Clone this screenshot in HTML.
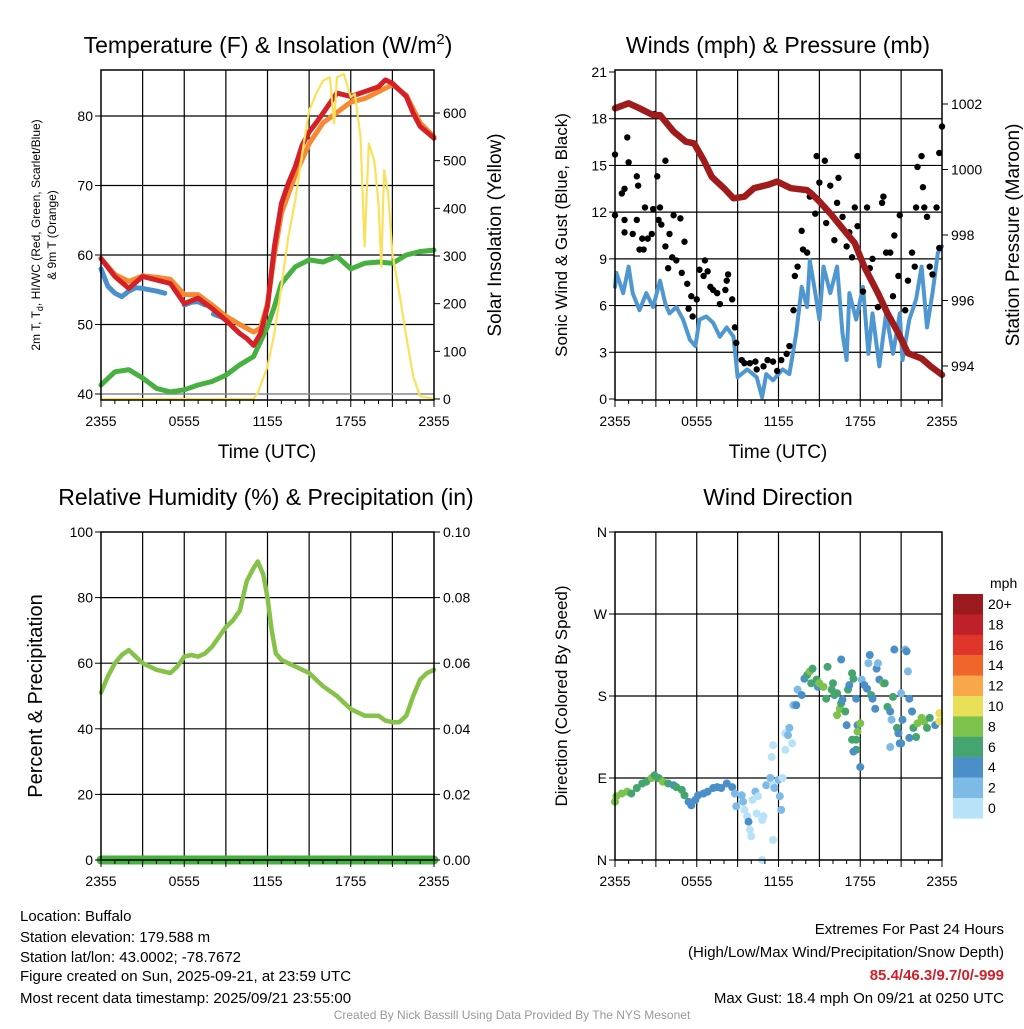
<!DOCTYPE html>
<html><head><meta charset="utf-8">
<style>
html,body{margin:0;padding:0;background:#fff;}
body{width:1024px;height:1024px;overflow:hidden;font-family:"Liberation Sans",Arial,sans-serif;}
svg text{font-family:"Liberation Sans",Arial,sans-serif;fill:#000;}
</style></head>
<body>
<svg id="chart" width="1024" height="1024" viewBox="0 0 1024 1024" xmlns="http://www.w3.org/2000/svg">
  <g id="layer"></g>
  <text x="268" y="53" font-size="23" text-anchor="middle">Temperature (F) &amp; Insolation (W/m<tspan dy="-9" font-size="15">2</tspan><tspan dy="9">)</tspan></text>
  <text x="778" y="53" font-size="23" text-anchor="middle">Winds (mph) &amp; Pressure (mb)</text>
  <text x="266" y="505" font-size="23" text-anchor="middle">Relative Humidity (%) &amp; Precipitation (in)</text>
  <text x="778" y="505" font-size="23" text-anchor="middle">Wind Direction</text>
  <text x="267" y="458" font-size="19" text-anchor="middle">Time (UTC)</text>
  <text x="778" y="458" font-size="19" text-anchor="middle">Time (UTC)</text>
  <text transform="translate(40,235) rotate(-90)" font-size="12" text-anchor="middle">2m T, T<tspan dy="3" font-size="9">d</tspan><tspan dy="-3">, HI/WC (Red, Green, Scarlet/Blue)</tspan></text>
  <text transform="translate(56,235) rotate(-90)" font-size="12" text-anchor="middle">&amp; 9m T (Orange)</text>
  <text transform="translate(501,235) rotate(-90)" font-size="19" text-anchor="middle">Solar Insolation (Yellow)</text>
  <text transform="translate(567,235) rotate(-90)" font-size="17" text-anchor="middle">Sonic Wind &amp; Gust (Blue, Black)</text>
  <text transform="translate(1019,235) rotate(-90)" font-size="19" text-anchor="middle">Station Pressure (Maroon)</text>
  <text transform="translate(42,696) rotate(-90)" font-size="20" text-anchor="middle">Percent &amp; Precipitation</text>
  <text transform="translate(567,696) rotate(-90)" font-size="17" text-anchor="middle">Direction (Colored By Speed)</text>
  <text x="990" y="588" font-size="14">mph</text>
  <g font-size="15">
    <text x="20" y="921">Location: Buffalo</text>
    <text x="20" y="942">Station elevation: 179.588 m</text>
    <text x="20" y="962">Station lat/lon: 43.0002; -78.7672</text>
    <text x="20" y="981">Figure created on Sun, 2025-09-21, at 23:59 UTC</text>
    <text x="20" y="1003">Most recent data timestamp: 2025/09/21 23:55:00</text>
  </g>
  <g font-size="15" text-anchor="end">
    <text x="1004" y="934">Extremes For Past 24 Hours</text>
    <text x="1004" y="957">(High/Low/Max Wind/Precipitation/Snow Depth)</text>
    <text x="1004" y="980" font-weight="bold" style="fill:#d0202a">85.4/46.3/9.7/0/-999</text>
    <text x="1004" y="1003">Max Gust: 18.4 mph On 09/21 at 0250 UTC</text>
  </g>
  <text x="512" y="1019" font-size="12" text-anchor="middle" style="fill:#999">Created By Nick Bassill Using Data Provided By The NYS Mesonet</text>
</svg>
<script>
// ---- Panel 1: temperature (F) by hour since 2355 UTC ----
const tRedHour = [0,1,2,3,4,5,6,7,8,9,10,10.5,11,11.5,12,12.5,13,13.5,14,14.5,15,15.5,16,17,18,19,20,20.5,21,22,22.5,23,24];
const tRed = [59.5,56.9,55.2,56.9,56.4,55.9,53.0,53.8,52.3,50.6,48.7,48,47,48.7,52.6,61.2,67.4,70.3,72.7,75.8,77.7,79,80.4,83.3,82.8,83.5,84.2,85.2,84.7,82.8,80.4,78.5,76.8];
const tOrangeHour = [0,1,2,3,4,5,6,7,8,9,10,11,11.5,12,12.5,13,14,15,16,17,18,19,20,21,22,23,24];
const tOrange = [59.5,57.2,56.2,57,56.8,56.5,54.3,54.3,52.8,51.2,50,48.9,49.5,53,60,66,71.5,76,79,80.5,82,82.5,83.5,84.5,83,79,77];
const tBlueHour1 = [0,0.5,1,1.5,2,2.5,3,3.5,4,4.6];
const tBlue1 = [58,55.5,54.5,54,54.8,55.3,55.2,55,54.8,54.5];
const tBlueHour2 = [6,6.5,7,7.5];
const tBlue2 = [52.8,53.2,53.3,52.8];
const tBlueHour3 = [8.1,8.5,8.9];
const tBlue3 = [51.5,51.2,50.9];
const tdHour = [0,1,2,3,4,5,6,7,8,9,10,11,12,12.5,13,14,15,16,17,18,19,20,21,22,23,24];
const td = [41.3,43.2,43.5,42.3,40.8,40.3,40.6,41.3,41.8,42.7,44.2,45.4,49.7,52.6,55.9,58.3,59.3,59,59.8,58,58.8,59,58.8,60,60.5,60.7];
const solarHour = [0,11,11.3,12,12.5,13,13.5,14,14.5,15,15.5,16,16.5,16.8,17,17.5,18,18.3,18.7,19,19.3,19.7,20,20.2,20.4,20.7,21,21.5,22,22.5,23,24];
const solar = [0,0,13,68,138,236,340,417,515,605,640,668,675,578,675,682,633,640,550,320,536,500,410,278,480,430,305,222,131,47,6,0];
const tempTicks = [40,50,60,70,80];
const solarTicks = [0,100,200,300,400,500,600];
const timeTickHours = [0,6,12,18,24];
const timeTickLabels = ["2355","0555","1155","1755","2355"];

// ---- Panel 2: winds (mph) & pressure (mb) ----
const presHour = [0,1,1.8,2.8,3.3,4.3,5.2,5.8,6.5,7.1,8,8.7,9.5,10.2,11.2,11.9,12.9,14.1,14.4,14.9,15.8,16.8,17.6,18.3,19.3,20,20.8,21.5,22.5,23.2,24];
const pres = [1001.87,1002.02,1001.87,1001.66,1001.66,1001.16,1000.85,1000.8,1000.29,999.78,999.43,999.12,999.17,999.43,999.53,999.63,999.43,999.37,999.27,999.07,998.66,998.15,997.75,997.03,996.22,995.61,995.0,994.39,994.23,993.98,993.73];
const windHour = [0,0.1,0.6,1.0,1.3,1.8,2.3,2.8,3.3,3.7,4.0,4.5,5.0,5.5,5.9,6.2,6.7,7.2,7.7,8.2,8.7,9.0,9.7,10.4,10.8,11.1,11.6,12.3,12.8,13.3,13.7,14.1,14.3,14.7,15.0,15.3,15.8,16.3,16.7,17.0,17.2,17.7,18.2,18.6,18.9,19.4,19.9,20.4,20.9,21.1,21.6,22.1,22.5,22.9,23.3,23.7,24.0];
const wind = [7.2,8.1,6.8,8.5,6.8,5.7,6.8,5.9,7.6,6.1,5.5,5.9,5.1,3.8,3.4,5.1,5.3,4.9,4.0,4.6,4.0,1.4,1.9,1.4,0.1,1.6,1.2,1.9,1.6,4.2,7.2,5.9,8.9,6.8,5.1,8.5,6.8,8.5,4.2,2.5,6.8,5.1,7.2,2.9,5.5,2.1,5.5,2.9,5.5,2.5,5.1,6.4,8.5,4.6,6.8,9.4,9.8];
const gustHour = [0.0,0.0,0.5,0.7,0.9,1.0,0.7,0.7,1.3,1.6,1.7,1.6,2.0,1.8,2.1,2.2,2.4,2.7,2.8,2.9,3.1,3.2,3.3,3.4,3.7,3.7,3.9,4.0,4.2,4.3,4.5,4.8,4.9,5.1,5.3,5.4,5.6,5.7,6.0,6.2,6.5,6.6,6.8,7.0,7.2,7.5,7.7,8.1,8.2,8.3,8.6,8.8,8.9,9.3,9.5,9.9,10.3,10.4,10.9,11.2,11.6,11.9,12.2,12.6,12.8,13.1,13.2,13.4,13.7,13.8,14.1,14.3,14.7,14.8,15.0,15.4,15.5,15.8,16.1,16.3,16.4,16.7,17.0,17.2,17.4,17.6,17.8,17.8,18.2,18.5,18.7,18.9,19.3,19.6,19.7,19.9,20.2,20.4,20.5,20.8,20.9,21.3,21.5,21.8,22.0,22.1,22.2,22.5,22.6,22.7,22.9,23.1,23.3,23.6,23.8,24.0,23.8];
const gust = [15.7,11.8,13.2,13.5,16.8,15.2,11.5,10.7,10.6,14.3,13.7,11.5,10.3,9.6,9.6,12.3,10.3,10.6,12.2,18.3,14.3,11.5,12.3,11.2,15.3,9.8,8.4,10.6,9.1,11.8,8.9,11.6,8.1,10.1,7.4,5.8,6.6,5.3,6.4,8.3,7.9,8.9,8.2,7.2,7.0,6.8,6.1,7.0,7.6,8.0,6.4,4.6,3.6,2.5,2.3,2.3,2.4,1.9,2.1,2.5,2.4,1.8,2.5,2.9,3.4,5.7,7.9,8.5,10.8,9.6,9.4,13.0,11.9,15.6,13.9,15.3,11.3,13.7,10.2,12.6,14.2,11.7,9.8,10.7,9.1,12.3,15.6,11.1,6.9,12.3,8.4,9.0,5.9,12.6,13.0,9.4,9.4,6.6,10.5,7.9,11.8,5.7,7.6,9.4,8.5,12.3,14.9,15.6,13.6,12.3,11.7,8.5,8.0,12.3,15.8,17.5,9.7];
const windTicks = [0,3,6,9,12,15,18,21];
const presTicks = [994,996,998,1000,1002];

// ---- Panel 3: relative humidity (%) & precipitation (in) ----
const rhHour = [0,0.5,1,1.5,2,2.5,3,3.5,4,5,5.5,6,6.5,7,7.5,8,8.5,9,9.5,10,10.5,11,11.3,11.7,12,12.3,12.6,13,14,15,16,17,18,19,20,20.5,21,21.5,22,22.5,23,23.5,24];
const rh = [51,56,60,62.5,64,62,60,59,58,57,59,62,62.5,62,63,65,68,71,73,76,85,89,91,87,80,70,63,61,59,57,53,50,46,44,44,42.5,42,42,44,50,55,57,58];
const precipHour = [0,24];
const precip = [0,0];
const rhTicks = [0,20,40,60,80,100];
const precipTicks = ["0.00","0.02","0.04","0.06","0.08","0.10"];

// ---- Panel 4: wind direction (deg) colored by speed (mph) ----
const dirHour = [0.0,0.1,0.5,0.9,1.2,1.6,2.0,2.3,2.7,2.9,3.2,3.5,3.9,4.3,4.5,4.9,5.1,5.4,5.6,5.9,6.1,6.5,6.8,7.2,7.5,7.8,8.2,8.6,8.8,8.9,9.3,9.4,9.5,9.7,9.8,9.9,10.0,10.1,10.3,10.4,10.5,10.8,10.9,11.1,11.4,11.6,11.7,12.0,12.1,12.2,12.3,11.6,10.8,11.5,11.6,12.5,12.5,12.8,13.0,12.7,13.1,13.3,13.4,13.7,13.9,14.1,14.3,14.5,14.4,14.8,14.9,15.0,15.3,15.5,15.6,15.9,16.0,16.1,16.3,16.5,16.6,16.3,16.7,16.9,17.1,17.2,17.4,17.5,16.6,17.7,17.8,18.0,18.1,18.3,18.5,18.6,18.7,18.8,18.9,19.1,19.2,19.3,19.4,19.7,19.8,20.0,20.2,20.3,20.4,20.5,20.7,20.8,20.9,21.0,21.1,21.3,21.4,21.5,21.6,21.8,21.9,22.1,22.2,22.5,22.7,22.9,23.1,23.5,23.8,23.8,17.7,17.7,17.5,18.0,17.8,17.4,17.0,20.2,21.0,21.6];
const dirDeg = [64,70,73,75,73,79,84,86,90,93,90,86,84,82,80,77,71,64,60,66,71,73,75,79,80,79,84,80,73,59,71,64,55,48,42,33,26,66,75,51,70,44,48,82,90,82,79,88,70,55,90,22,0,113,126,121,139,145,128,137,170,170,187,181,199,203,207,210,194,198,190,194,190,177,212,187,194,181,183,166,172,159,176,163,187,192,205,199,220,177,148,150,198,192,188,216,225,181,177,166,210,216,198,194,194,168,163,154,179,231,145,139,128,183,154,231,229,207,177,163,145,135,150,156,152,145,156,148,161,152,121,132,119,102,141,132,148,124,128,134];
const dirSpeed = [8,8,8,8,6,6,6,6,8,6,6,8,6,4,6,6,6,4,4,4,4,4,4,4,4,4,4,4,2,2,2,2,0,0,4,0,0,0,2,0,0,0,0,2,2,0,2,2,2,2,0,0,0,0,0,0,0,2,0,2,2,4,2,4,4,6,8,6,6,6,4,8,8,6,6,6,6,6,6,8,6,8,4,6,6,4,6,6,4,4,4,8,2,4,4,2,4,6,4,4,4,2,4,8,6,6,4,2,6,4,6,4,4,2,4,2,4,2,4,4,6,6,8,8,8,6,6,4,10,10,6,6,4,4,8,6,4,2,4,4];
const dirTicks = [0,90,180,270,360];
const dirTickLabels = ["N","E","S","W","N"];
const cbarLabels = ["20+","18","16","14","12","10","8","6","4","2","0"];
const cbarColors = ["#9b1a1e","#c0202a","#e0352a","#f0662a","#f8a848","#e8e058","#7dc24d","#45a56e","#4a8fc8","#7ebae6","#b8e2f8"];

const NS = "http://www.w3.org/2000/svg";
const layer = document.getElementById("layer");
function mk(tag, attrs, parent){ const e=document.createElementNS(NS,tag); for(const k in attrs) e.setAttribute(k,attrs[k]); (parent||layer).appendChild(e); return e; }

const P1={x0:101,x1:434,y0:70,y1:400}, P2={x0:615,x1:942,y0:70,y1:400}, P3={x0:101,x1:434,y0:532,y1:860}, P4={x0:615,x1:942,y0:532,y1:860};
function xs(P){ return h => P.x0 + (h/24)*(P.x1-P.x0); }
function lin(d0,d1,r0,r1){ return v => r0 + (v-d0)/(d1-d0)*(r1-r0); }

const x1s=xs(P1), x2s=xs(P2), x3s=xs(P3), x4s=xs(P4);
const yTemp=lin(40,80,394,116), ySolar=lin(0,600,399,113);
const yWind=lin(0,21,399,72), yPres=lin(994,1002,366,104);
const yRh=lin(0,100,860,532), yDir=lin(0,360,860,532);

function grid(P, xsF, hLines, name){
  const g=mk("g",{});
  
  
  for(let h=3;h<24;h+=3){ mk("line",{x1:xsF(h),x2:xsF(h),y1:P.y0,y2:P.y1,stroke:"#000","stroke-width":1.2},g); }
  hLines.forEach(y=>{ mk("line",{x1:P.x0,x2:P.x1,y1:y,y2:y,stroke:"#000","stroke-width":1.2},g); });
}
function frame(P,name){
  const r=mk("rect",{x:P.x0,y:P.y0,width:P.x1-P.x0,height:P.y1-P.y0,fill:"none",stroke:"#000","stroke-width":1.5});
  
  
}
function xAxis(P,xsF,name){
  const g=mk("g",{});
  
  
  for(let h=0;h<=24;h+=1){ const L=(h%3===0)?7:4; mk("line",{x1:xsF(h),x2:xsF(h),y1:P.y1,y2:P.y1+L,stroke:"#000"},g); }
  timeTickHours.forEach((h,i)=>{ const t=mk("text",{x:xsF(h),y:P.y1+26,"font-size":14,"text-anchor":"middle"},g); t.textContent=timeTickLabels[i]; });
}
function yAxis(P,vals,labels,yF,side,name){
  const g=mk("g",{});
  
  
  vals.forEach((v,i)=>{ const y=yF(v);
    if(side==="L"){ mk("line",{x1:P.x0-6,x2:P.x0,y1:y,y2:y,stroke:"#000"},g); const t=mk("text",{x:P.x0-8,y:y+5,"font-size":14,"text-anchor":"end"},g); t.textContent=labels[i]; }
    else { mk("line",{x1:P.x1,x2:P.x1+6,y1:y,y2:y,stroke:"#000"},g); const t=mk("text",{x:P.x1+9,y:y+5,"font-size":14,"text-anchor":"start"},g); t.textContent=labels[i]; }
  });
}
function path(hs,vs,xF,yF,color,w,name){
  let d=""; hs.forEach((h,i)=>{ d+=(i?"L":"M")+xF(h).toFixed(1)+","+yF(vs[i]).toFixed(1); });
  const p=mk("path",{d:d,fill:"none",stroke:color,"stroke-width":w,"stroke-linejoin":"round","stroke-linecap":"round"});
  
  
  return p;
}

// Panel 1
grid(P1,x1s,[yTemp(50),yTemp(60),yTemp(70),yTemp(80)],"panel1");
mk("line",{x1:P1.x0,x2:P1.x1,y1:yTemp(40),y2:yTemp(40),stroke:"#888","stroke-width":1.5});
path(tdHour,td,x1s,yTemp,"#46b040",5,"dewpoint-line");
path(tBlueHour1,tBlue1,x1s,yTemp,"#4a90cc",5,"windchill-line-1");
path(tBlueHour2,tBlue2,x1s,yTemp,"#4a90cc",5,"windchill-line-2");
path(tBlueHour3,tBlue3,x1s,yTemp,"#4a90cc",5,"windchill-line-3");
path(tOrangeHour,tOrange,x1s,yTemp,"#f58a30",5,"temp-9m-line");
path(tRedHour,tRed,x1s,yTemp,"#d42026",5,"temp-2m-line");
path(solarHour,solar,x1s,ySolar,"#fbe15a",2.2,"solar-insolation-line");
frame(P1,"panel1");
xAxis(P1,x1s,"panel1");
yAxis(P1,tempTicks,tempTicks.map(String),yTemp,"L","panel1-temp-axis");
yAxis(P1,solarTicks,solarTicks.map(String),ySolar,"R","panel1-solar-axis");

// Panel 2
grid(P2,x2s,windTicks.slice(1,7).map(yWind),"panel2");
path(windHour,wind,x2s,yWind,"#4f97d0",4,"sonic-wind-line");
gustHour.forEach((h,i)=>{
  const c=mk("circle",{cx:x2s(h),cy:yWind(gust[i]),r:3.2,fill:"#000"});
  
  
});
path(presHour,pres,x2s,yPres,"#a01c1c",6.5,"pressure-line");
frame(P2,"panel2");
xAxis(P2,x2s,"panel2");
yAxis(P2,windTicks,windTicks.map(String),yWind,"L","panel2-wind-axis");
yAxis(P2,presTicks,presTicks.map(String),yPres,"R","panel2-pressure-axis");

// Panel 3
grid(P3,x3s,[20,40,60,80].map(yRh),"panel3");
path(rhHour,rh,x3s,yRh,"#86c24a",4.5,"relative-humidity-line");
path(precipHour,precip,x3s,v=>yRh(v*1000),"#46b040",9,"precipitation-line");
frame(P3,"panel3");
xAxis(P3,x3s,"panel3");
yAxis(P3,rhTicks,rhTicks.map(String),yRh,"L","panel3-rh-axis");
yAxis(P3,rhTicks,precipTicks,yRh,"R","panel3-precip-axis");

// Panel 4
grid(P4,x4s,[90,180,270].map(yDir),"panel4");
function spdColor(s){ const idx=Math.min(10,Math.max(0,Math.floor(s/2))); return cbarColors[10-idx]; }
dirHour.forEach((h,i)=>{
  const c=mk("circle",{cx:x4s(h),cy:yDir(dirDeg[i]),r:4,fill:spdColor(dirSpeed[i])});
  
  
});
frame(P4,"panel4");
xAxis(P4,x4s,"panel4");
yAxis(P4,dirTicks,dirTickLabels,yDir,"L","panel4-direction-axis");
const cb=mk("g",{});


cbarColors.forEach((c,i)=>{
  const y=594+i*20.4;
  mk("rect",{x:953,y:y,width:30,height:20.6,fill:c},cb);
  const t=mk("text",{x:988,y:y+15,"font-size":14},cb); t.textContent=cbarLabels[i];
});
</script>
</body></html>
